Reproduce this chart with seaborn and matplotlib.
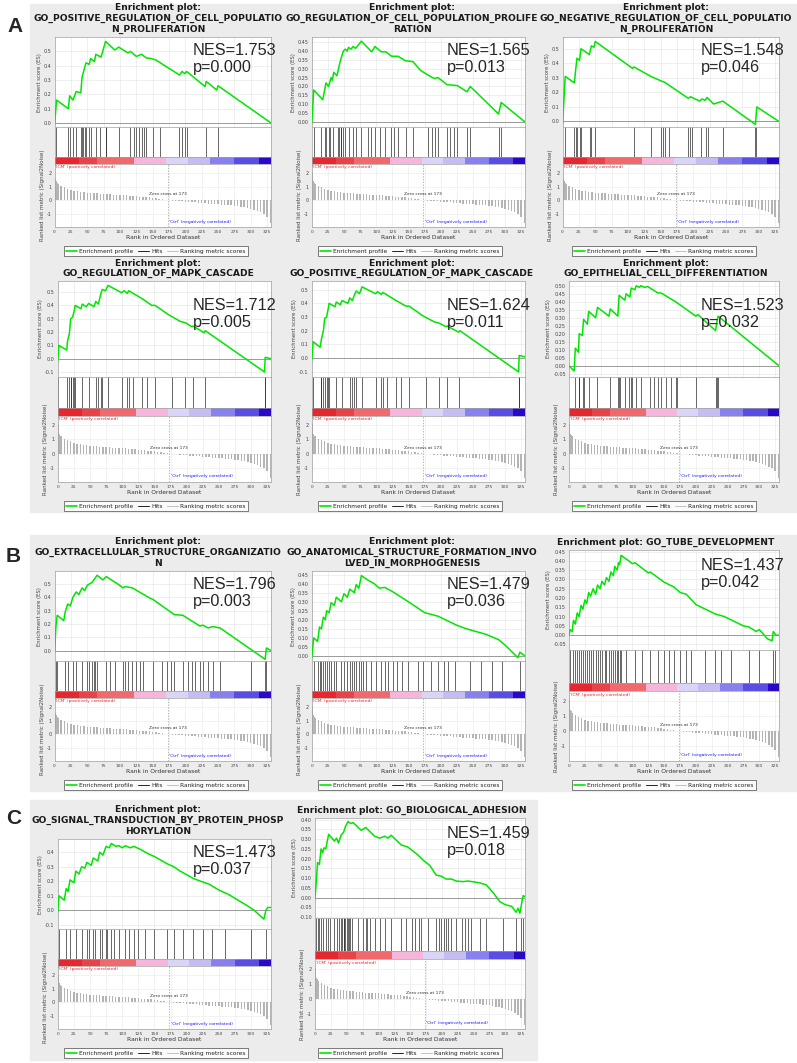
import numpy as np
import matplotlib
matplotlib.use('Agg')
import matplotlib.pyplot as plt
import seaborn as sns
from matplotlib.patches import Rectangle
from matplotlib.lines import Line2D

sns.set_style('white')
plt.rcParams['font.family'] = ['DejaVu Sans']

W, H = 797, 1063   # figure size in pixels

# ---- shared ranked list (Signal2Noise) ----
metric_x = [0, 1, 2, 3, 4, 5, 10, 15, 20, 25, 30, 35, 40, 45, 50, 55, 60, 65, 70, 75, 80,
            85, 90, 95, 100, 105, 110, 115, 120, 125, 130, 135, 140, 145, 150, 155, 160,
            165, 170, 175, 180, 185, 190, 195, 200, 205, 210, 215, 220, 225, 230, 235,
            240, 245, 250, 255, 260, 265, 270, 275, 280, 285, 290, 295, 300, 305, 310,
            315, 320, 325, 330]
metric_y = [2.05, 1.55, 1.40, 1.32, 1.25, 1.20, 1.05, 0.95, 0.85, 0.76, 0.70, 0.65, 0.61,
            0.58, 0.55, 0.53, 0.51, 0.49, 0.47, 0.45, 0.43, 0.42, 0.41, 0.39, 0.38, 0.36,
            0.34, 0.32, 0.30, 0.28, 0.26, 0.24, 0.21, 0.19, 0.16, 0.13, 0.10, 0.07, 0.03,
            -0.01, -0.04, -0.06, -0.08, -0.10, -0.12, -0.14, -0.16, -0.18, -0.20, -0.22,
            -0.24, -0.26, -0.28, -0.30, -0.32, -0.34, -0.36, -0.38, -0.40, -0.43, -0.46,
            -0.50, -0.55, -0.60, -0.66, -0.73, -0.81, -0.92, -1.05, -1.25, -1.70]

# colour strip under the hits
cbar_edges = [0, 37, 65, 121, 171, 204, 238, 275, 313, 331]
cbar_colors = ['#e5282f', '#e9434a', '#f06a6d', '#f6b5da', '#d9d5f6', '#c3bdf2',
               '#8880ee', '#5a4de3', '#2a08c8']

titles = [
    'Enrichment plot:\nGO_POSITIVE_REGULATION_OF_CELL_POPULATIO\nN_PROLIFERATION',
    'Enrichment plot:\nGO_REGULATION_OF_CELL_POPULATION_PROLIFE\nRATION',
    'Enrichment plot:\nGO_NEGATIVE_REGULATION_OF_CELL_POPULATIO\nN_PROLIFERATION',
    'Enrichment plot:\nGO_REGULATION_OF_MAPK_CASCADE',
    'Enrichment plot:\nGO_POSITIVE_REGULATION_OF_MAPK_CASCADE',
    'Enrichment plot:\nGO_EPITHELIAL_CELL_DIFFERENTIATION',
    'Enrichment plot:\nGO_EXTRACELLULAR_STRUCTURE_ORGANIZATIO\nN',
    'Enrichment plot:\nGO_ANATOMICAL_STRUCTURE_FORMATION_INVO\nLVED_IN_MORPHOGENESIS',
    'Enrichment plot: GO_TUBE_DEVELOPMENT',
    'Enrichment plot:\nGO_SIGNAL_TRANSDUCTION_BY_PROTEIN_PHOSP\nHORYLATION',
    'Enrichment plot: GO_BIOLOGICAL_ADHESION',
]
nes_vals = ['1.753', '1.565', '1.548', '1.712', '1.624', '1.523',
            '1.796', '1.479', '1.437', '1.473', '1.459']
p_vals = ['0.000', '0.013', '0.046', '0.005', '0.011', '0.032',
          '0.003', '0.036', '0.042', '0.037', '0.018']

# ---- running enrichment score curves (rank, ES) ----
es1_x = [0, 3, 21, 23, 28, 33, 40, 42, 48, 53, 55, 61, 63, 71, 78, 92, 98, 112, 116, 125,
         133, 140, 148, 155, 191, 195, 199, 202, 230, 232, 248, 250, 331]
es1_y = [-0.01, 0.16, 0.10, 0.19, 0.16, 0.22, 0.21, 0.32, 0.42, 0.41, 0.45, 0.43, 0.48,
         0.46, 0.57, 0.51, 0.53, 0.49, 0.50, 0.465, 0.48, 0.455, 0.45, 0.44, 0.335, 0.36,
         0.345, 0.36, 0.255, 0.29, 0.23, 0.26, 0.0]
es2_x = [0, 3, 17, 22, 26, 30, 32, 34, 39, 44, 49, 52, 55, 57, 61, 64, 68, 77, 93, 98, 108,
         115, 124, 134, 145, 157, 169, 180, 190, 196, 210, 226, 241, 246, 290, 294, 331]
es2_y = [-0.005, 0.18, 0.125, 0.22, 0.20, 0.25, 0.235, 0.28, 0.26, 0.34, 0.40, 0.41, 0.40,
         0.42, 0.41, 0.425, 0.415, 0.455, 0.395, 0.425, 0.395, 0.395, 0.37, 0.37, 0.345,
         0.34, 0.29, 0.265, 0.245, 0.25, 0.21, 0.205, 0.17, 0.20, 0.045, 0.11, 0.0]
es3_x = [0, 4, 18, 20, 22, 26, 28, 41, 44, 48, 50, 107, 109, 135, 150, 156, 192, 196, 200,
         210, 213, 218, 221, 231, 245, 295, 297, 331]
es3_y = [-0.015, 0.31, 0.265, 0.355, 0.435, 0.42, 0.50, 0.46, 0.52, 0.51, 0.55, 0.365,
         0.375, 0.31, 0.28, 0.27, 0.16, 0.17, 0.16, 0.14, 0.155, 0.145, 0.165, 0.12, 0.14,
         -0.02, 0.10, 0.0]
es4_x = [0, 1.5, 14, 15, 18, 20, 23, 25, 27, 36, 38, 44, 48, 56, 59, 63, 67, 69, 74, 78,
         99, 103, 108, 110, 131, 146, 151, 172, 190, 198, 208, 210, 227, 229, 321, 322, 331]
es4_y = [-0.01, 0.10, 0.065, 0.13, 0.19, 0.30, 0.31, 0.35, 0.40, 0.375, 0.41, 0.39, 0.415,
         0.39, 0.43, 0.41, 0.49, 0.52, 0.51, 0.55, 0.495, 0.51, 0.49, 0.51, 0.45, 0.40,
         0.40, 0.33, 0.28, 0.27, 0.24, 0.245, 0.195, 0.21, -0.10, 0.01, 0.0]
es5_x = [0, 2, 13, 15, 18, 20, 23, 25, 27, 36, 38, 44, 47, 56, 59, 63, 66, 69, 74, 78, 99,
         102, 108, 110, 131, 146, 151, 172, 190, 198, 208, 210, 228, 230, 321, 322, 331]
es5_y = [-0.01, 0.12, 0.08, 0.14, 0.20, 0.29, 0.30, 0.35, 0.40, 0.375, 0.41, 0.39, 0.42,
         0.40, 0.44, 0.42, 0.46, 0.49, 0.47, 0.52, 0.47, 0.485, 0.465, 0.48, 0.42, 0.38,
         0.38, 0.31, 0.265, 0.255, 0.23, 0.235, 0.19, 0.20, -0.10, 0.02, 0.01]
es6_x = [0, 8, 10, 15, 16, 21, 23, 29, 31, 42, 45, 63, 65, 77, 79, 88, 90, 96, 98, 104, 106,
         111, 113, 119, 124, 140, 145, 168, 200, 203, 231, 233, 235, 331]
es6_y = [0.0, -0.033, 0.11, 0.085, 0.20, 0.19, 0.29, 0.26, 0.34, 0.30, 0.365, 0.31, 0.355,
         0.31, 0.44, 0.41, 0.45, 0.43, 0.485, 0.475, 0.50, 0.49, 0.50, 0.49, 0.495, 0.455,
         0.455, 0.40, 0.31, 0.32, 0.22, 0.27, 0.31, 0.0]
es7_x = [0, 2, 4, 14, 16, 20, 24, 28, 33, 37, 42, 46, 50, 57, 65, 70, 74, 79, 101, 104, 108,
         119, 147, 150, 183, 196, 222, 227, 235, 242, 253, 322, 324, 331]
es7_y = [-0.013, 0.18, 0.265, 0.225, 0.285, 0.35, 0.335, 0.40, 0.44, 0.42, 0.47, 0.45, 0.49,
         0.51, 0.565, 0.545, 0.53, 0.555, 0.485, 0.47, 0.48, 0.47, 0.39, 0.385, 0.27, 0.265,
         0.185, 0.19, 0.17, 0.18, 0.17, -0.065, 0.02, 0.0]
es8_x = [0, 3, 9, 12, 15, 18, 21, 23, 27, 30, 35, 38, 46, 50, 55, 59, 66, 69, 73, 77, 87, 97,
         105, 113, 126, 150, 175, 196, 225, 240, 270, 290, 300, 320, 323, 331]
es8_y = [-0.01, 0.10, 0.08, 0.16, 0.15, 0.215, 0.20, 0.25, 0.24, 0.295, 0.28, 0.325, 0.30,
         0.345, 0.325, 0.37, 0.35, 0.395, 0.375, 0.445, 0.42, 0.40, 0.375, 0.38, 0.355,
         0.30, 0.24, 0.22, 0.17, 0.15, 0.12, 0.09, 0.06, -0.01, 0.02, 0.0]
es9_x = [0, 2, 5, 7, 10, 13, 16, 19, 22, 25, 28, 31, 34, 38, 42, 45, 49, 52, 56, 59, 63, 66,
         70, 72, 76, 78, 80, 82, 100, 104, 125, 128, 150, 165, 175, 185, 200, 215, 230, 245,
         260, 275, 283, 295, 300, 313, 320, 322, 326, 331]
es9_y = [0.0, 0.03, 0.02, 0.08, 0.06, 0.12, 0.10, 0.16, 0.14, 0.19, 0.17, 0.23, 0.21, 0.25,
         0.22, 0.27, 0.25, 0.29, 0.27, 0.31, 0.29, 0.34, 0.32, 0.37, 0.35, 0.39, 0.38, 0.43,
         0.385, 0.39, 0.335, 0.34, 0.285, 0.26, 0.23, 0.22, 0.165, 0.14, 0.115, 0.10, 0.075,
         0.05, 0.045, 0.02, 0.03, -0.02, -0.03, 0.02, 0.0, 0.0]
es10_x = [0, 2, 10, 13, 16, 19, 25, 28, 33, 37, 42, 45, 52, 55, 62, 65, 70, 75, 80, 83, 90,
          95, 100, 105, 112, 118, 128, 140, 150, 160, 170, 180, 190, 200, 210, 222, 235,
          250, 265, 280, 295, 305, 315, 320, 323, 326, 331]
es10_y = [-0.01, 0.10, 0.07, 0.15, 0.13, 0.21, 0.19, 0.27, 0.25, 0.30, 0.29, 0.33, 0.31,
          0.36, 0.34, 0.40, 0.38, 0.44, 0.43, 0.46, 0.44, 0.445, 0.43, 0.445, 0.43, 0.44,
          0.42, 0.39, 0.37, 0.345, 0.32, 0.30, 0.27, 0.245, 0.22, 0.20, 0.18, 0.14, 0.11,
          0.07, 0.03, 0.0, -0.04, -0.06, 0.0, 0.02, 0.02]
es11_x = [0, 2.6, 4, 7, 9.5, 12, 14, 17, 21.5, 30.5, 34, 37, 41, 45, 48, 52, 54, 57, 60, 65,
          73, 80, 86, 94, 102, 110, 115, 120, 136, 146, 160, 173, 181, 191, 199, 207, 215,
          223, 233, 241, 252, 260, 270, 281, 291, 299, 304, 310, 317, 320, 323, 325, 328, 331]
es11_y = [-0.005, 0.11, 0.18, 0.17, 0.25, 0.23, 0.255, 0.25, 0.325, 0.29, 0.305, 0.28, 0.32,
          0.335, 0.365, 0.39, 0.385, 0.38, 0.385, 0.37, 0.345, 0.36, 0.34, 0.315, 0.305,
          0.315, 0.305, 0.32, 0.27, 0.26, 0.225, 0.185, 0.165, 0.115, 0.11, 0.095, 0.095,
          0.085, 0.082, 0.085, 0.08, 0.075, 0.065, 0.025, -0.02, -0.035, -0.04, -0.045,
          -0.075, -0.055, -0.08, -0.043, 0.01, 0.005]

# ---- positions of the gene set members in the ranked list ----
hits1 = [2, 21, 23, 28, 33, 40, 42, 44, 46, 48, 53, 55, 63, 70, 78, 79, 98, 116, 121, 125,
         129, 133, 137, 140, 150, 161, 191, 195, 199, 202, 232, 250]
hits2 = [3, 15, 20, 22, 26, 29, 33, 40, 42, 45, 46, 49, 51, 57, 64, 68, 77, 87, 92, 98, 106,
         113, 123, 128, 134, 146, 157, 181, 186, 192, 196, 210, 214, 220, 225, 241, 246,
         291, 294]
hits3 = [3, 18, 20, 22, 26, 28, 42, 44, 50, 109, 135, 150, 153, 156, 162, 192, 195, 198,
         212, 220, 222, 246, 294, 296]
hits4 = [1, 15, 18, 20, 21, 23, 25, 27, 38, 48, 59, 62, 67, 69, 78, 100, 108, 110, 117, 131,
         138, 151, 177, 198, 210, 228, 321, 322]
hits5 = [2, 14, 15, 18, 20, 23, 25, 27, 38, 47, 59, 63, 66, 69, 78, 100, 108, 110, 117, 131,
         138, 151, 177, 198, 210, 229, 321, 322]
hits6 = [9, 15, 16, 22, 23, 31, 44, 64, 78, 79, 80, 89, 95, 98, 99, 106, 113, 127, 134, 140,
         145, 153, 161, 169, 171, 200, 232, 233, 235]
hits7 = [2, 4, 16, 20, 28, 33, 42, 50, 53, 57, 60, 62, 65, 79, 85, 92, 104, 108, 112, 119,
         125, 130, 135, 150, 165, 172, 178, 183, 196, 204, 210, 215, 222, 227, 235, 242,
         253, 300, 322, 324]
hits8 = [3, 9, 12, 15, 18, 21, 23, 27, 30, 35, 38, 46, 50, 55, 59, 62, 66, 69, 73, 77, 80,
         84, 92, 100, 108, 113, 118, 126, 132, 140, 150, 165, 172, 185, 196, 205, 212, 222,
         245, 262, 280, 296, 323]
hits9 = [2, 7, 10, 13, 16, 19, 22, 25, 28, 31, 34, 38, 42, 45, 49, 52, 56, 59, 63, 66, 70,
         72, 76, 78, 80, 82, 90, 104, 115, 128, 140, 150, 158, 165, 175, 185, 192, 215, 230,
         240, 255, 283, 300, 322, 324]
hits10 = [2, 13, 19, 28, 37, 45, 48, 55, 58, 65, 68, 75, 77, 83, 87, 95, 105, 110, 118, 125,
          135, 150, 170, 180, 195, 210, 225, 240, 260, 300, 323]
hits11 = [2, 4, 6, 9, 12, 17, 21, 24, 30, 34, 38, 41, 43, 45, 46, 48, 50, 52, 53, 55, 58,
          67, 76, 80, 82, 86, 94, 102, 110, 120, 136, 144, 153, 158, 164, 167, 178, 191, 195,
          199, 203, 206, 210, 215, 223, 231, 236, 241, 246, 260, 270, 296, 317, 325, 328]

es_x = [es1_x, es2_x, es3_x, es4_x, es5_x, es6_x, es7_x, es8_x, es9_x, es10_x, es11_x]
es_y = [es1_y, es2_y, es3_y, es4_y, es5_y, es6_y, es7_y, es8_y, es9_y, es10_y, es11_y]
hits = [hits1, hits2, hits3, hits4, hits5, hits6, hits7, hits8, hits9, hits10, hits11]

# layout: (column left px, block top px), y-limits, tick range + step
blocks = [(30, 3), (284, 3), (538, 3), (30, 258), (284, 258), (538, 258),
          (30, 537), (284, 537), (538, 537), (30, 805), (284, 805)]
ylims = [(-0.03, 0.60), (-0.03, 0.478), (-0.04, 0.58), (-0.135, 0.58), (-0.135, 0.56),
         (-0.068, 0.527), (-0.08, 0.596), (-0.03, 0.47), (-0.08, 0.46), (-0.13, 0.49),
         (-0.105, 0.41)]
yticks = [(0, 0.5, 0.1), (0, 0.45, 0.05), (0, 0.5, 0.1), (-0.1, 0.5, 0.1), (-0.1, 0.5, 0.1),
          (-0.05, 0.5, 0.05), (0, 0.5, 0.1), (0, 0.45, 0.05), (-0.05, 0.45, 0.05),
          (-0.1, 0.4, 0.1), (-0.1, 0.4, 0.05)]

GREEN = '#00e600'
N = 331


def rect(left, top, right, bottom):
    return [left / W, 1 - bottom / H, (right - left) / W, (bottom - top) / H]


def style_axes(ax):
    for s in ax.spines.values():
        s.set_color('#a0a0a0')
        s.set_linewidth(0.5)
    ax.tick_params(length=1.2, width=0.4, pad=1, color='#888888', labelcolor='#444444')


fig = plt.figure(figsize=(W / 100, H / 100), dpi=100)

# grey panel backgrounds + panel letters
for (l, t, r, b) in [(30, 4, 797, 512), (30, 535, 797, 791), (30, 800, 537, 1060)]:
    fig.add_artist(Rectangle((l / W, 1 - b / H), (r - l) / W, (b - t) / H,
                             transform=fig.transFigure, color='#ececec', zorder=0))
for letter, (lx, ly) in zip('ABC', [(15.5, 26), (13.5, 556), (14, 819)]):
    fig.text(lx / W, 1 - ly / H, letter, fontsize=15, weight='bold',
             family='Liberation Sans', ha='center', va='center')

for i in range(11):
    x0, y0 = blocks[i]
    nlines = titles[i].count('\n') + 1
    lo, hi, step = yticks[i]
    ticks = np.round(np.arange(lo, hi + step / 2, step), 3)
    dec = 1 if step >= 0.1 else 2
    labels = [f'{t:.{dec}f}' for t in ticks]
    maxlen = max(len(s) for s in labels)
    left = x0 + 15 + 3.2 * maxlen
    right = x0 + 241
    top = y0 + 2 + 10.7 * nlines
    bot = y0 + 224
    ha = bot - top
    es_bot = top + 0.475 * ha
    hit_bot = es_bot + 0.155 * ha
    cb_bot = hit_bot + 0.04 * ha

    fig.text((x0 + 128) / W, 1 - (y0 + 0.5) / H, titles[i], ha='center', va='top',
             fontsize=6.6, weight='bold', linespacing=1.22, color='#1a1a1a')

    # running ES
    ax = fig.add_axes(rect(left, top, right, es_bot))
    ax.axhline(0, color='#8c8c8c', lw=0.6, zorder=1)
    sns.lineplot(x=es_x[i], y=es_y[i], ax=ax, color=GREEN, lw=1.1, sort=False,
                 estimator=None, zorder=3)
    ax.set_xlim(0, N)
    ax.set_ylim(*ylims[i])
    ax.set_xticks(range(0, 326, 25))
    ax.set_xticklabels([])
    ax.set_yticks(ticks)
    ax.set_yticklabels(labels, fontsize=3.5)
    ax.grid(True, color='#e4e4e4', lw=0.4)
    ax.set_axisbelow(True)
    ax.set_ylabel('Enrichment score (ES)', fontsize=3.8, labelpad=1.5, color='#444444')
    ax.set_xlabel('')
    style_axes(ax)

    # hits
    axh = fig.add_axes(rect(left, es_bot, right, hit_bot))
    sns.rugplot(x=hits[i], ax=axh, height=1.0, color='#2a2a2a', linewidth=0.5,
                expand_margins=False)
    axh.set_xlim(0, N)
    axh.set_ylim(0, 1)
    axh.set_xticks([])
    axh.set_yticks([])
    style_axes(axh)

    # colour strip
    axc = fig.add_axes(rect(left, hit_bot, right, cb_bot))
    axc.bar(cbar_edges[:-1], 1, width=np.diff(cbar_edges), align='edge',
            color=cbar_colors, linewidth=0)
    axc.set_xlim(0, N)
    axc.set_ylim(0, 1)
    axc.set_xticks([])
    axc.set_yticks([])
    style_axes(axc)

    # ranked list metric
    axm = fig.add_axes(rect(left, cb_bot, right, bot))
    axm.bar(metric_x, metric_y, width=2.2, color='#b4b4b4', linewidth=0, zorder=2)
    axm.axvline(173, color='#9a9a9a', lw=0.5, ls=(0, (2, 2)), zorder=3)
    axm.set_xlim(0, N)
    axm.set_ylim(-2.0, 2.65)
    axm.set_xticks(range(0, 326, 25))
    axm.set_xticklabels([str(v) for v in range(0, 326, 25)], fontsize=3.2)
    axm.set_yticks([-1, 0, 1, 2])
    axm.set_yticklabels(['-1', '0', '1', '2'], fontsize=3.5)
    axm.grid(True, color='#e8e8e8', lw=0.4)
    axm.set_axisbelow(True)
    axm.text(1, 2.42, "'ICM' (positively correlated)", color='#ff1a1a', fontsize=3.2,
             va='center')
    axm.text(173, 0.42, 'Zero cross at 173', color='#333333', fontsize=3.2, ha='center',
             va='center')
    axm.text(175, -1.6, "'Ctrl' (negatively correlated)", color='#1a1aff', fontsize=3.2,
             va='center')
    axm.set_xlabel('Rank in Ordered Dataset', fontsize=4.3, labelpad=1, color='#333333')
    axm.set_ylabel('Ranked list metric (Signal2Noise)', fontsize=4, labelpad=1.5,
                   color='#444444')
    style_axes(axm)

    # legend
    handles = [Line2D([], [], color=GREEN, lw=1.2), Line2D([], [], color='#222222', lw=0.7),
               Line2D([], [], color='#c0c0c0', lw=0.7)]
    leg = fig.legend(handles, ['Enrichment profile', 'Hits', 'Ranking metric scores'],
                     loc='center', bbox_to_anchor=((x0 + 126) / W, 1 - (y0 + 248) / H),
                     ncol=3, fontsize=4.2, frameon=True, fancybox=False, edgecolor='#444444',
                     handlelength=1.8, handletextpad=0.4, columnspacing=0.8,
                     borderpad=0.35)
    leg.get_frame().set_linewidth(0.6)

    # NES / p annotations
    base = y0 + (33 if nlines == 1 else 52)
    fig.text((x0 + 163) / W, 1 - base / H, f'NES={nes_vals[i]}', fontsize=11.7,
             family='Liberation Sans', va='baseline')
    fig.text((x0 + 163) / W, 1 - (base + 17.3) / H, f'p={p_vals[i]}', fontsize=11.7,
             family='Liberation Sans', va='baseline')

fig.savefig('out.png', dpi=100)
